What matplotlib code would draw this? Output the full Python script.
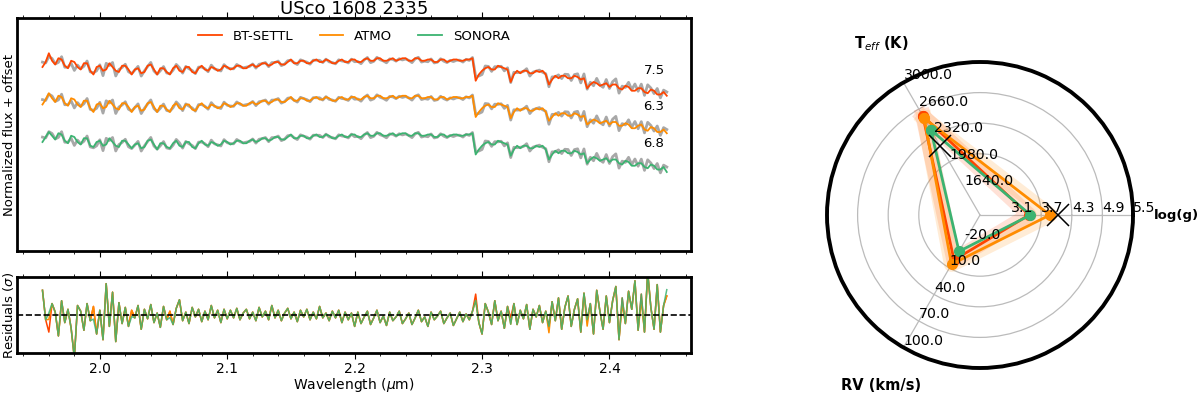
import matplotlib
matplotlib.use("Agg")
import matplotlib.pyplot as plt
import numpy as np
from matplotlib.ticker import MultipleLocator

# ---------------- spectral data ----------------
wavelength = [
    1.9550, 1.9575, 1.9600, 1.9625, 1.9650, 1.9675, 1.9700, 1.9725, 1.9750, 1.9775,
    1.9800, 1.9825, 1.9850, 1.9875, 1.9900, 1.9925, 1.9950, 1.9975, 2.0000, 2.0025,
    2.0050, 2.0075, 2.0100, 2.0125, 2.0150, 2.0175, 2.0200, 2.0225, 2.0250, 2.0275,
    2.0300, 2.0325, 2.0350, 2.0375, 2.0400, 2.0425, 2.0450, 2.0475, 2.0500, 2.0525,
    2.0550, 2.0575, 2.0600, 2.0625, 2.0650, 2.0675, 2.0700, 2.0725, 2.0750, 2.0775,
    2.0800, 2.0825, 2.0850, 2.0875, 2.0900, 2.0925, 2.0950, 2.0975, 2.1000, 2.1025,
    2.1050, 2.1075, 2.1100, 2.1125, 2.1150, 2.1175, 2.1200, 2.1225, 2.1250, 2.1275,
    2.1300, 2.1325, 2.1350, 2.1375, 2.1400, 2.1425, 2.1450, 2.1475, 2.1500, 2.1525,
    2.1550, 2.1575, 2.1600, 2.1625, 2.1650, 2.1675, 2.1700, 2.1725, 2.1750, 2.1775,
    2.1800, 2.1825, 2.1850, 2.1875, 2.1900, 2.1925, 2.1950, 2.1975, 2.2000, 2.2025,
    2.2050, 2.2075, 2.2100, 2.2125, 2.2150, 2.2175, 2.2200, 2.2225, 2.2250, 2.2275,
    2.2300, 2.2325, 2.2350, 2.2375, 2.2400, 2.2425, 2.2450, 2.2475, 2.2500, 2.2525,
    2.2550, 2.2575, 2.2600, 2.2625, 2.2650, 2.2675, 2.2700, 2.2725, 2.2750, 2.2775,
    2.2800, 2.2825, 2.2850, 2.2875, 2.2900, 2.2925, 2.2950, 2.2975, 2.3000, 2.3025,
    2.3050, 2.3075, 2.3100, 2.3125, 2.3150, 2.3175, 2.3200, 2.3225, 2.3250, 2.3275,
    2.3300, 2.3325, 2.3350, 2.3375, 2.3400, 2.3425, 2.3450, 2.3475, 2.3500, 2.3525,
    2.3550, 2.3575, 2.3600, 2.3625, 2.3650, 2.3675, 2.3700, 2.3725, 2.3750, 2.3775,
    2.3800, 2.3825, 2.3850, 2.3875, 2.3900, 2.3925, 2.3950, 2.3975, 2.4000, 2.4025,
    2.4050, 2.4075, 2.4100, 2.4125, 2.4150, 2.4175, 2.4200, 2.4225, 2.4250, 2.4275,
    2.4300, 2.4325, 2.4350, 2.4375, 2.4400, 2.4425, 2.4450]

flux_btsettl = [
    0.96, 1.00, 1.07, 1.01, 0.98, 1.03, 1.02, 0.97, 0.95, 1.01,
    1.00, 0.96, 0.94, 0.99, 0.99, 0.93, 0.90, 0.96, 0.97, 0.93,
    0.94, 0.99, 0.96, 0.93, 0.92, 0.97, 0.97, 0.94, 0.90, 0.94,
    0.95, 0.91, 0.92, 0.97, 0.98, 0.94, 0.90, 0.95, 0.95, 0.92,
    0.90, 0.95, 0.97, 0.93, 0.92, 0.96, 0.96, 0.92, 0.91, 0.95,
    0.97, 0.94, 0.93, 0.96, 0.95, 0.93, 0.94, 0.97, 0.96, 0.94,
    0.95, 0.97, 0.97, 0.95, 0.95, 0.97, 0.98, 0.96, 0.97, 0.99,
    0.99, 0.97, 0.98, 1.00, 1.00, 0.98, 0.98, 1.00, 1.02, 0.99,
    0.99, 1.01, 1.01, 0.99, 0.99, 1.01, 1.02, 1.00, 1.00, 1.02,
    1.01, 0.99, 0.99, 1.01, 1.02, 1.00, 1.00, 1.02, 1.02, 1.00,
    1.00, 1.02, 1.03, 1.01, 1.01, 1.03, 1.03, 1.01, 1.01, 1.02,
    1.03, 1.01, 1.02, 1.03, 1.03, 1.01, 1.01, 1.03, 1.03, 1.01,
    1.01, 1.02, 1.02, 1.00, 1.00, 1.02, 1.02, 1.00, 1.01, 1.02,
    1.02, 1.01, 1.01, 1.02, 1.02, 1.03, 0.85, 0.90, 0.93, 0.95,
    0.96, 0.94, 0.94, 0.97, 0.96, 0.95, 0.94, 0.84, 0.90, 0.93,
    0.91, 0.93, 0.93, 0.91, 0.91, 0.93, 0.92, 0.93, 0.90, 0.82,
    0.86, 0.89, 0.87, 0.89, 0.89, 0.87, 0.87, 0.89, 0.88, 0.86,
    0.87, 0.79, 0.82, 0.84, 0.83, 0.81, 0.82, 0.83, 0.80, 0.82,
    0.82, 0.79, 0.78, 0.81, 0.80, 0.77, 0.77, 0.79, 0.79, 0.76,
    0.75, 0.78, 0.77, 0.74, 0.74, 0.76, 0.73]

flux_atmo = [
    0.96, 1.00, 1.05, 1.01, 0.98, 1.03, 1.02, 0.97, 0.95, 1.01,
    1.00, 0.96, 0.94, 0.99, 0.99, 0.93, 0.90, 0.96, 0.97, 0.93,
    0.94, 0.99, 0.96, 0.93, 0.92, 0.97, 0.97, 0.94, 0.90, 0.94,
    0.95, 0.91, 0.92, 0.97, 0.98, 0.94, 0.90, 0.95, 0.95, 0.92,
    0.90, 0.95, 0.97, 0.93, 0.92, 0.96, 0.96, 0.92, 0.91, 0.95,
    0.97, 0.94, 0.93, 0.96, 0.95, 0.93, 0.94, 0.97, 0.96, 0.94,
    0.95, 0.97, 0.97, 0.95, 0.95, 0.97, 0.98, 0.96, 0.97, 0.99,
    0.99, 0.97, 0.98, 1.00, 1.00, 0.98, 0.98, 1.00, 1.02, 0.99,
    0.99, 1.01, 1.01, 0.99, 0.99, 1.01, 1.02, 1.00, 1.00, 1.02,
    1.01, 0.99, 0.99, 1.01, 1.02, 1.00, 1.00, 1.02, 1.02, 1.00,
    1.00, 1.02, 1.03, 1.01, 1.01, 1.03, 1.03, 1.01, 1.01, 1.02,
    1.03, 1.01, 1.02, 1.03, 1.03, 1.01, 1.01, 1.03, 1.03, 1.01,
    1.01, 1.02, 1.02, 1.00, 1.00, 1.02, 1.02, 1.00, 1.01, 1.02,
    1.02, 1.01, 1.01, 1.02, 1.02, 1.03, 0.86, 0.90, 0.93, 0.95,
    0.96, 0.94, 0.94, 0.97, 0.96, 0.95, 0.94, 0.85, 0.90, 0.93,
    0.91, 0.93, 0.93, 0.91, 0.91, 0.93, 0.92, 0.93, 0.90, 0.83,
    0.86, 0.89, 0.87, 0.89, 0.89, 0.87, 0.87, 0.89, 0.88, 0.86,
    0.87, 0.80, 0.82, 0.84, 0.83, 0.81, 0.82, 0.83, 0.80, 0.82,
    0.82, 0.79, 0.79, 0.81, 0.80, 0.77, 0.77, 0.79, 0.80, 0.76,
    0.75, 0.78, 0.77, 0.74, 0.74, 0.76, 0.73]

flux_sonora = [
    0.96, 1.00, 1.04, 1.01, 0.98, 1.03, 1.02, 0.97, 0.95, 1.01,
    1.00, 0.96, 0.94, 0.99, 0.99, 0.93, 0.92, 0.96, 0.97, 0.93,
    0.94, 0.99, 0.96, 0.93, 0.92, 0.97, 0.97, 0.94, 0.91, 0.94,
    0.95, 0.91, 0.92, 0.97, 0.98, 0.94, 0.90, 0.95, 0.95, 0.92,
    0.91, 0.95, 0.97, 0.93, 0.92, 0.96, 0.96, 0.92, 0.91, 0.95,
    0.97, 0.94, 0.93, 0.96, 0.95, 0.93, 0.94, 0.97, 0.96, 0.94,
    0.95, 0.97, 0.97, 0.95, 0.95, 0.97, 0.98, 0.96, 0.97, 0.99,
    0.99, 0.97, 0.98, 1.00, 1.00, 0.98, 0.98, 1.00, 1.02, 0.99,
    0.99, 1.01, 1.01, 0.99, 0.99, 1.01, 1.02, 1.00, 1.00, 1.02,
    1.01, 0.99, 0.99, 1.01, 1.02, 1.00, 1.00, 1.02, 1.02, 1.00,
    1.00, 1.02, 1.03, 1.01, 1.01, 1.03, 1.03, 1.01, 1.01, 1.02,
    1.03, 1.01, 1.02, 1.03, 1.03, 1.01, 1.01, 1.03, 1.03, 1.01,
    1.01, 1.02, 1.02, 1.00, 1.00, 1.02, 1.02, 1.00, 1.01, 1.02,
    1.02, 1.01, 1.01, 1.02, 1.02, 1.03, 0.86, 0.90, 0.93, 0.95,
    0.96, 0.94, 0.94, 0.97, 0.96, 0.95, 0.94, 0.85, 0.90, 0.93,
    0.91, 0.93, 0.93, 0.91, 0.91, 0.93, 0.92, 0.93, 0.90, 0.82,
    0.86, 0.89, 0.87, 0.89, 0.89, 0.87, 0.87, 0.89, 0.88, 0.86,
    0.87, 0.79, 0.82, 0.84, 0.83, 0.81, 0.82, 0.83, 0.80, 0.82,
    0.82, 0.79, 0.78, 0.81, 0.80, 0.77, 0.77, 0.79, 0.79, 0.76,
    0.75, 0.78, 0.77, 0.74, 0.74, 0.76, 0.72]

# residuals of the BT-SETTL fit (in sigma)
resid_btsettl = [
    2.6, -0.5, -1.8, 1.2, 0.3, -2.2, 1.5, -0.8, 0.6, -1.4,
    -4.5, 1.0, 0.4, -1.6, 1.2, -0.6, 0.9, -2.0, 0.5, -2.6,
    3.3, -1.2, 2.4, -2.8, 1.3, -0.9, 0.8, -1.2, 0.5, -0.3,
    1.0, -1.5, 0.6, -0.4, 1.1, -0.8, 0.2, -1.3, 0.9, -0.5,
    0.4, -1.0, 0.7, 1.6, -0.6, 0.3, -0.9, 0.8, -0.2, 0.6,
    -0.7, 0.4, -0.5, 1.0, -0.3, 0.5, -0.8, 0.6, -0.4, 0.5,
    -0.3, 0.7, -0.5, 0.2, 0.6, -0.4, 0.3, -0.6, 0.8, -0.2,
    0.4, -0.5, 1.0, -0.3, 0.5, -0.6, 0.2, 0.7, -0.4, 0.3,
    -0.7, 0.5, -0.2, 0.6, -0.5, 0.3, -0.4, 0.9, -0.3, 0.2,
    -0.6, 0.4, -0.3, 0.5, -0.8, 0.3, -0.5, 0.2, -1.2, 0.3,
    -0.9, -0.2, 0.4, -1.0, -0.3, 0.5, -0.8, -0.1, -1.1, 0.3,
    -0.6, -0.2, 0.4, -0.9, -0.4, 0.2, -1.0, -0.3, 0.5, -0.7,
    -0.2, -1.2, 0.3, -0.5, -0.1, 0.4, -0.9, -0.3, 0.2, -1.1,
    -0.4, 0.3, -0.7, 0.1, -0.5, 0.4, 2.2, -0.8, -2.0, 1.2,
    0.3, -1.0, 1.5, -0.6, 0.4, -1.4, 0.9, -0.3, 1.2, -1.0,
    0.5, -0.4, 1.1, -1.5, 0.6, -0.2, 1.0, -0.8, 0.4, -1.2,
    1.4, -0.6, 1.8, -1.5, 0.8, 2.0, -1.2, 0.6, 1.7, -1.8,
    2.3, -0.5, 1.2, -2.0, 2.6, 0.4, -1.5, 2.0, -0.8, 1.5,
    3.0, -2.6, 1.8, -0.9, 2.5, 0.6, 3.6, -1.6, 2.2, -1.8,
    4.5, 0.8, -1.5, 3.2, -1.8, 1.0, 2.0]
flux_sigma = 0.015

model_names = ["BT-SETTL", "ATMO", "SONORA"]
model_colors = ["#FF4500", "#FF8C00", "#3CB371"]
model_offsets = [0.0, -0.3, -0.6]
chi2_labels = ["7.5", "6.3", "6.8"]
chi2_label_y = [0.93, 0.64, 0.35]

# ---------------- radar data ----------------
radar_labels = [r"$\mathbf{T}_{\mathit{eff}}$ (K)", "log(g)", "RV (km/s)"]
radar_angles_deg = [120, 0, 240]
teff_ticks = [1640.0, 1980.0, 2320.0, 2660.0, 3000.0]
logg_ticks = [3.1, 3.7, 4.3, 4.9, 5.5]
rv_ticks = [-20.0, 10.0, 40.0, 70.0, 100.0]
teff_fit = [2568, 2540, 2391]      # BT-SETTL, ATMO, SONORA
logg_fit = [3.46, 3.87, 3.49]
rv_fit = [1.0, 5.8, -8.8]
teff_lit = 2179
logg_lit = 4.02

# ---------------- derived ----------------
wl = np.array(wavelength)
models = [np.array(flux_btsettl), np.array(flux_atmo), np.array(flux_sonora)]
obs = models[0] + flux_sigma * np.array(resid_btsettl)
residuals = [(obs - m) / flux_sigma for m in models]

W, H = 1200, 394
fig = plt.figure(figsize=(W / 100, H / 100), dpi=100)

ax1 = fig.add_axes([17 / W, 1 - 251 / H, 674 / W, 233 / H])
ax2 = fig.add_axes([17 / W, 1 - 353 / H, 674 / W, 76 / H])

for name, col, off, m in zip(model_names, model_colors, model_offsets, models):
    ax1.plot(wl, obs + off, color="#A8A8A8", lw=2.0, zorder=2)
    ax1.plot(wl, m + off, color=col, lw=1.3, label=name, zorder=3)

for lab, yy in zip(chi2_labels, chi2_label_y):
    ax1.text(2.435, yy, lab, ha="center", va="center", fontsize=9.5)

ax1.set_xlim(1.935, 2.464)
ax1.set_ylim(-0.512, 1.352)
ax1.set_yticks([])
ax1.set_ylabel("Normalized flux + offset", fontsize=9.5, labelpad=1)
ax1.set_title("USco 1608 2335", fontsize=13, pad=1.0)
ax1.legend(loc="upper center", ncol=3, frameon=False, fontsize=9.5,
           handlelength=1.8, columnspacing=2.0, borderaxespad=0.5)

for col, r, a in zip(model_colors, residuals, [1.0, 1.0, 0.85]):
    ax2.plot(wl, r, color=col, lw=1.1, alpha=a)
ax2.axhline(0, color="black", ls="--", lw=1.2, zorder=5)
ax2.set_xlim(1.935, 2.464)
ax2.set_ylim(-4, 4)
ax2.set_yticks([])
ax2.set_ylabel(r"Residuals ($\sigma$)", fontsize=9.5, labelpad=1)
ax2.set_xlabel(r"Wavelength ($\mu$m)", fontsize=10, labelpad=0)

for ax in (ax1, ax2):
    ax.xaxis.set_major_locator(MultipleLocator(0.1))
    ax.xaxis.set_minor_locator(MultipleLocator(0.02))
    ax.tick_params(axis="x", which="both", direction="out", top=True, bottom=True)
    ax.tick_params(axis="x", which="major", length=4, width=0.8, labelsize=10, pad=2.5)
    ax.tick_params(axis="x", which="minor", length=2.5, width=0.6)
    for s in ax.spines.values():
        s.set_linewidth(2.0)
ax1.tick_params(axis="x", labelbottom=False)

# ---------------- radar ----------------
axr = fig.add_axes([827 / W, 1 - 368 / H, 306 / W, 306 / H], projection="polar")
angles = np.deg2rad(radar_angles_deg)
tick_sets = [teff_ticks, logg_ticks, rv_ticks]


def to_r(v, ticks):
    return 0.2 + 0.8 * (v - ticks[0]) / (ticks[-1] - ticks[0])


axr.set_ylim(0, 1)
axr.set_yticks([0.4, 0.6, 0.8])
axr.set_yticklabels([])
axr.set_xticks(angles)
axr.set_xticklabels([])
axr.grid(True, color="#BBBBBB", lw=0.9)
axr.spines["polar"].set_linewidth(2.8)

for ang, ticks in zip(angles, tick_sets):
    for i, t in enumerate(ticks):
        axr.text(ang, 0.2 + 0.2 * i, f"{t:.1f}", ha="left", va="bottom",
                 fontsize=10.2, zorder=6)

# axis titles: T_eff and RV centred, log(g) placed just outside the 5.5 label
axr.text(angles[0], 1.29, radar_labels[0], ha="center", va="center",
         fontsize=10.5, fontweight="bold", clip_on=False)
axr.text(angles[1], 1.135, radar_labels[1], ha="left", va="center",
         fontsize=9.5, fontweight="bold", clip_on=False)
axr.text(angles[2], 1.29, radar_labels[2], ha="center", va="center",
         fontsize=10.5, fontweight="bold", clip_on=False)

closed = list(angles) + [angles[0]]
for i, col in enumerate(model_colors[:2]):
    rs = [to_r(teff_fit[i], teff_ticks), to_r(logg_fit[i], logg_ticks),
          to_r(rv_fit[i], rv_ticks)]
    rs = rs + [rs[0]]
    axr.plot(closed, rs, color=col, lw=11, alpha=0.16,
             solid_joinstyle="round", zorder=2)
for i, col in enumerate(model_colors):
    rs = [to_r(teff_fit[i], teff_ticks), to_r(logg_fit[i], logg_ticks),
          to_r(rv_fit[i], rv_ticks)]
    rs = rs + [rs[0]]
    axr.plot(closed, rs, color=col, lw=2.0, marker="o", ms=7, zorder=4)

axr.plot([angles[0], angles[1]],
         [to_r(teff_lit, teff_ticks), to_r(logg_lit, logg_ticks)],
         ls="none", marker="x", color="black", ms=16, mew=1.1, zorder=5)

fig.savefig("out.png", dpi=100)
